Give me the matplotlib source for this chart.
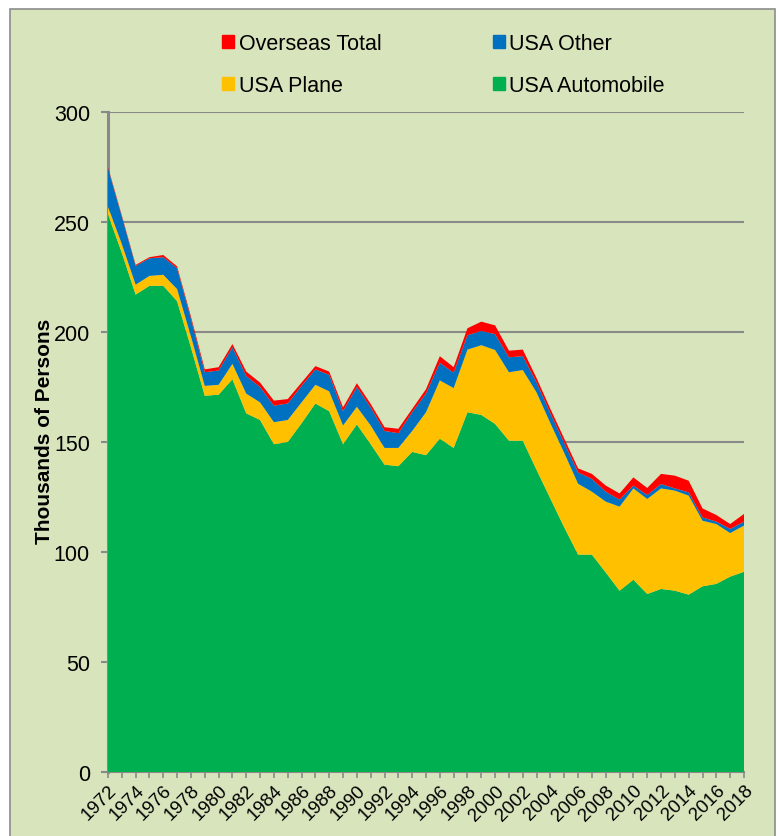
import matplotlib.pyplot as plt
from matplotlib.patches import Patch, Rectangle

plt.rcParams['font.family'] = ['Liberation Sans', 'DejaVu Sans']

years = list(range(1972, 2019))

# thousands of persons per travel mode
usa_auto = [253.5, 236.0, 217.0, 221.0, 221.0, 214.0, 193.0, 171.0, 171.5, 178.5,
            163.0, 160.0, 149.0, 150.0, 158.5, 167.5, 164.0, 149.0, 158.0, 149.0,
            139.7, 139.0, 145.5, 144.0, 151.5, 147.3, 163.5, 162.3, 158.2, 150.6,
            150.6, 137.3, 124.2, 111.2, 98.8, 98.8, 90.7, 82.4, 87.4, 80.9,
            83.2, 82.4, 80.6, 84.4, 85.5, 88.8, 91.0]
usa_plane = [3.5, 4.0, 4.5, 4.5, 5.0, 5.5, 5.0, 4.5, 4.5, 7.0,
             9.0, 8.0, 10.0, 10.0, 9.5, 8.5, 9.0, 8.5, 8.0, 8.5,
             7.6, 8.3, 9.5, 19.5, 26.5, 27.2, 28.5, 31.7, 33.6, 31.1,
             32.1, 35.2, 34.3, 33.8, 32.2, 28.6, 32.2, 38.2, 41.5, 43.2,
             45.7, 45.5, 45.0, 29.8, 27.2, 19.8, 21.0]
usa_other = [17.5, 12.5, 8.5, 8.0, 8.0, 9.5, 8.0, 6.2, 6.5, 7.5,
             8.0, 7.0, 7.5, 7.5, 7.5, 7.0, 7.5, 6.5, 9.0, 8.2,
             7.7, 6.7, 8.5, 8.5, 8.0, 7.0, 6.5, 6.5, 7.2, 6.8,
             6.3, 4.5, 4.5, 4.5, 5.2, 5.8, 4.5, 3.2, 1.3, 1.8,
             2.0, 1.0, 1.5, 1.5, 1.1, 1.9, 1.8]
overseas = [0.5, 0.5, 0.5, 0.5, 1.0, 0.8, 1.0, 1.3, 1.5, 1.5,
            2.0, 2.0, 2.3, 2.0, 1.5, 1.5, 1.5, 1.7, 1.7, 1.6,
            1.7, 2.0, 1.5, 2.0, 3.0, 2.5, 3.2, 4.2, 4.0, 3.0,
            3.0, 2.0, 2.0, 2.0, 1.8, 2.3, 2.8, 2.8, 3.7, 3.2,
            4.6, 5.8, 5.3, 4.1, 3.0, 2.2, 3.5]

names = ['USA Automobile', 'USA Plane', 'USA Other', 'Overseas Total']
colors = ['#00B050', '#FFC000', '#0070C0', '#FF0000']
bg = '#D8E4BC'
grid_gray = '#898989'

fig = plt.figure(figsize=(7.78, 8.37), dpi=100, facecolor='white')
fig.patches.append(Rectangle((0.013, -0.02), 0.983, 1.008, transform=fig.transFigure,
                             facecolor=bg, edgecolor='#8C8C8C', linewidth=1.2, zorder=-5))

ax = fig.add_axes([0.1388, 0.0765, 0.8175, 0.7885])
ax.set_facecolor('none')
ax.stackplot(years, usa_auto, usa_plane, usa_other, overseas,
             colors=colors, linewidth=0, zorder=3)

ax.set_xlim(1972, 2018)
ax.set_ylim(0, 300)
ax.set_yticks(range(0, 301, 50))
ax.set_xticks(years, minor=True)
ax.set_xticks(years[::2])
ax.set_xticklabels([str(y) for y in years[::2]], rotation=45, ha='right',
                   rotation_mode='anchor', fontsize=13.5)
ax.tick_params(axis='y', labelsize=15.5, length=5, width=1.5, color=grid_gray, pad=8)
ax.tick_params(axis='x', which='both', length=4, width=1.2, color=grid_gray, pad=3)
ax.grid(axis='y', color=grid_gray, linewidth=1.5, zorder=1)
ax.set_axisbelow(True)

for side in ['top', 'right']:
    ax.spines[side].set_visible(False)
ax.spines['left'].set_color(grid_gray)
ax.spines['left'].set_linewidth(2.2)
ax.spines['bottom'].set_color(grid_gray)
ax.spines['bottom'].set_linewidth(1.5)

ax.set_ylabel('Thousands of Persons', fontsize=15, fontweight='bold')
ax.yaxis.set_label_coords(-0.085, 0.517)

# legend rows: Overseas / Other on top, Plane / Automobile below
handles = [Patch(color=colors[3], label=names[3]), Patch(color=colors[1], label=names[1]),
           Patch(color=colors[2], label=names[2]), Patch(color=colors[0], label=names[0])]
fig.legend(handles=handles, ncol=2, loc='upper left', bbox_to_anchor=(0.261, 0.982),
           frameon=False, fontsize=15.5, handlelength=0.55, handleheight=0.55,
           handletextpad=0.2, columnspacing=5.2, labelspacing=0.97)

fig.savefig('out.png', dpi=100, facecolor='white')
